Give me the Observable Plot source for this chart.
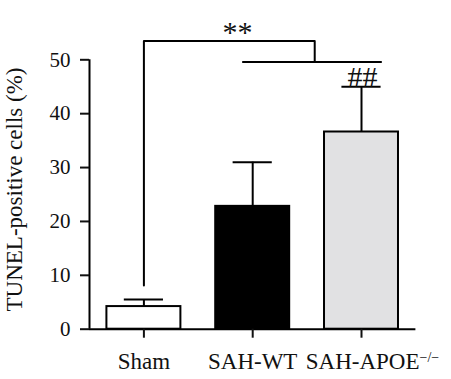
<!DOCTYPE html>
<html><head><meta charset="utf-8">
<script src="https://cdn.jsdelivr.net/npm/d3@7"></script>
<script src="https://cdn.jsdelivr.net/npm/@observablehq/plot@0.6"></script>
<style>html,body{margin:0;padding:0;background:#fff} #chart svg{display:block}</style>
</head><body><div id="chart"></div>
<script>
// ---- data ----
const categories = ["Sham", "SAH-WT", "SAH-APOE"];
const means = [4.2, 22.8, 36.6];
const sds = [1.3, 8.2, 8.4];
const fills = ["#ffffff", "#000000", "#e1e1e3"];
const yTicks = [0, 10, 20, 30, 40, 50];
const yLabel = "TUNEL-positive cells (%)";
const apoeSuperscript = "\u2212/\u2212";
// significance brackets (x in category-index units, y in %)
const bracketAx = [0, 0, 1.57, 1.57];
const bracketAy = [8.1, 53.5, 53.5, 49.6];
const bracketBx = [0.91, 2.18];
const bracketBy = [49.6, 49.6];
const sigText = ["**", "##"];
const sigX = [0.86, 2.01];
const sigY = [55.0, 46.7];

// ---- build ----
const xDomain = [-0.5, 2.5];
const yDomain = [0, 50];
const half = 0.34, capHalf = 0.18;
const bars = categories.map((c, i) => ({i, c, mean: means[i], top: means[i] + sds[i], fill: fills[i]}));
const bA = bracketAx.map((x, k) => ({x, y: bracketAy[k]}));
const bB = bracketBx.map((x, k) => ({x, y: bracketBy[k]}));
const sig = sigText.map((t, k) => ({t, x: sigX[k], y: sigY[k]}));

const chart = Plot.plot({
  width: 451,
  height: 379,
  marginLeft: 89,
  marginRight: 35.6,
  marginTop: 59.3,
  marginBottom: 50.3,
  style: {fontFamily: "'Liberation Serif', serif", fontSize: "21px", background: "#fff", color: "#111"},
  x: {domain: xDomain},
  y: {domain: yDomain},
  marks: [
    Plot.rect(bars, {x1: d => d.i - half, x2: d => d.i + half, y1: 0, y2: "mean", fill: "fill", stroke: "#000", strokeWidth: 2}),
    Plot.ruleX(bars, {x: "i", y1: "mean", y2: "top", stroke: "#000", strokeWidth: 2}),
    Plot.ruleY(bars, {y: "top", x1: d => d.i - capHalf, x2: d => d.i + capHalf, stroke: "#000", strokeWidth: 2}),
    Plot.line(bA, {x: "x", y: "y", stroke: "#000", strokeWidth: 2}),
    Plot.line(bB, {x: "x", y: "y", stroke: "#000", strokeWidth: 2}),
    Plot.text(sig, {x: "x", y: "y", text: "t", fontSize: 30, fill: "#111"}),
    Plot.ruleX([xDomain[0]], {y1: yDomain[0], y2: yDomain[1], stroke: "#000", strokeWidth: 2}),
    Plot.ruleY([yDomain[0]], {x1: xDomain[0], x2: xDomain[1], stroke: "#000", strokeWidth: 2}),
    Plot.axisY({ticks: yTicks, tickSize: 9, tickPadding: 10, strokeWidth: 2, label: null, fontSize: 21}),
    Plot.axisX({ticks: [0, 1, 2], tickFormat: i => categories[i], tickSize: 9, tickPadding: 14, strokeWidth: 2, label: null, fontSize: 23}),
    Plot.text([yLabel], {frameAnchor: "left", textAnchor: "middle", rotate: -90, dx: -75, dy: -5, fontSize: 23, fill: "#111"})
  ]
});
document.getElementById("chart").append(chart);

// superscript on the APOE label
chart.querySelectorAll("text").forEach(t => {
  if (t.textContent === categories[2]) {
    const ts = document.createElementNS("http://www.w3.org/2000/svg", "tspan");
    ts.setAttribute("baseline-shift", "super");
    ts.setAttribute("font-size", "14");
    ts.textContent = apoeSuperscript;
    t.appendChild(ts);
    t.setAttribute("dx", "11");
  }
});
</script>
</body></html>
